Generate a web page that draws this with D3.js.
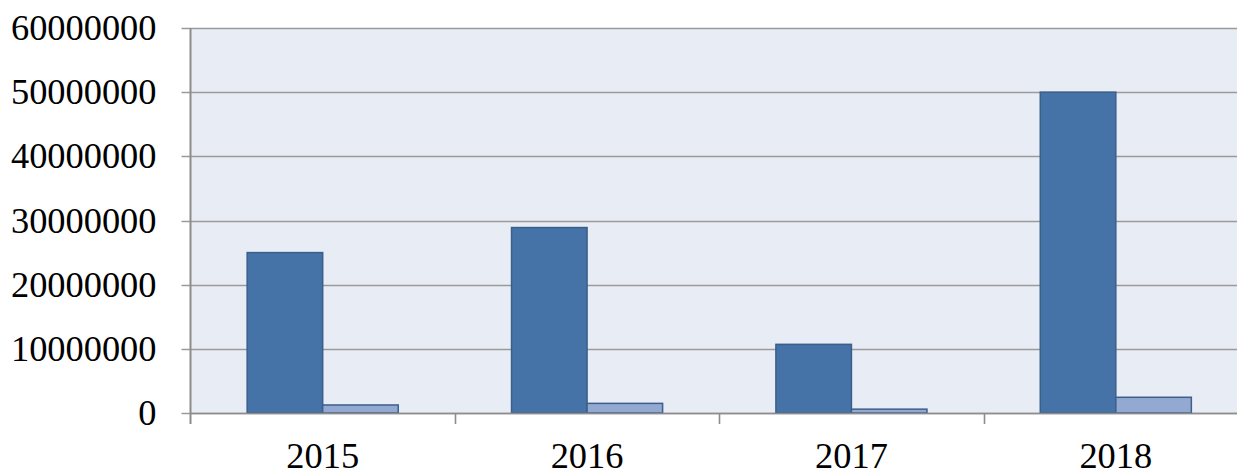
<!DOCTYPE html>
<html>
<head>
<meta charset="utf-8">
<script src="https://cdn.jsdelivr.net/npm/d3@7/dist/d3.min.js"></script>
<style>
html,body{margin:0;padding:0;background:#fff;}
svg{display:block;}
</style>
</head>
<body>
<svg id="chart" width="1237" height="473"></svg>
<script>
const categories = ["2015", "2016", "2017", "2018"];
const seriesA = [25000000, 28900000, 10700000, 50000000];
const seriesB = [1250000, 1500000, 600000, 2450000];
const yTicks = [0, 10000000, 20000000, 30000000, 40000000, 50000000, 60000000];

(function () {
const svg = d3.select("#chart");
const pL = 190.5, pR = 1248, pT = 28, pB = 413;
const FONT = "'Liberation Serif', 'Times New Roman', serif";
const FS = 35, SX = 1.04;

const x = d3.scaleBand().domain(categories).range([pL, pR]).paddingInner(0).paddingOuter(0);
const y = d3.scaleLinear().domain([0, 60000000]).range([pB, pT]);

svg.append("rect").attr("x", pL).attr("y", pT)
  .attr("width", pR - pL).attr("height", pB - pT)
  .attr("fill", "#e8ecf4");

svg.append("g").selectAll("line").data(yTicks).join("line")
  .attr("x1", pL - 9).attr("x2", pR)
  .attr("y1", d => Math.round(y(d)) + 0.5).attr("y2", d => Math.round(y(d)) + 0.5)
  .attr("stroke", "#9a9a9a").attr("stroke-width", 1.6);

const bw = x.bandwidth();
const barW = bw / 3.5;
const inner = d3.scaleBand().domain(["A", "B"]).range([0, 2 * barW]);
const data = categories.map((c, i) => ({c, A: seriesA[i], B: seriesB[i]}));
const colors = {A: "#4573a7", B: "#94a9d1"};
const strokes = {A: "#3a5f8c", B: "#3c5f8c"};

const g = svg.append("g");
data.forEach(d => {
  ["A", "B"].forEach(k => {
    const x0 = x(d.c) + (bw - 2 * barW) / 2 + inner(k);
    g.append("rect")
      .attr("x", x0).attr("y", y(d[k]))
      .attr("width", inner.bandwidth()).attr("height", y(0) - y(d[k]))
      .attr("fill", colors[k]).attr("stroke", strokes[k]).attr("stroke-width", 1.5);
  });
});

// y axis
const yAxis = d3.axisLeft(y).tickValues(yTicks).tickSize(0).tickPadding(34).tickFormat(d3.format("d"));
const ya = svg.append("g").attr("transform", `translate(${pL},0)`).call(yAxis);
ya.select(".domain").remove();
ya.selectAll("text").attr("font-family", FONT)
  .attr("font-size", FS).attr("fill", "#000").attr("x", 0).attr("dy", "0.33em")
  .attr("transform", `translate(-34,0) scale(${SX},1)`);

svg.append("line").attr("x1", pL).attr("x2", pL).attr("y1", pT).attr("y2", pB + 11)
  .attr("stroke", "#8c8c8c").attr("stroke-width", 2);

// x axis
const xa = svg.append("g").attr("transform", `translate(0,${pB})`)
  .call(d3.axisBottom(x).tickSize(0).tickPadding(0));
xa.select(".domain").remove();
xa.selectAll("text").attr("font-family", FONT)
  .attr("font-size", FS).attr("fill", "#000").attr("y", 0).attr("dy", 0)
  .attr("transform", `translate(0,55) scale(${SX},1)`);

svg.append("line").attr("x1", pL).attr("x2", pR).attr("y1", pB + 0.5).attr("y2", pB + 0.5)
  .attr("stroke", "#8c8c8c").attr("stroke-width", 1.6);

svg.append("g").selectAll("line").data(categories.slice(1)).join("line")
  .attr("x1", d => Math.round(x(d)) + 0.5).attr("x2", d => Math.round(x(d)) + 0.5)
  .attr("y1", pB).attr("y2", pB + 11)
  .attr("stroke", "#8c8c8c").attr("stroke-width", 1.6);
})();
</script>
</body>
</html>
